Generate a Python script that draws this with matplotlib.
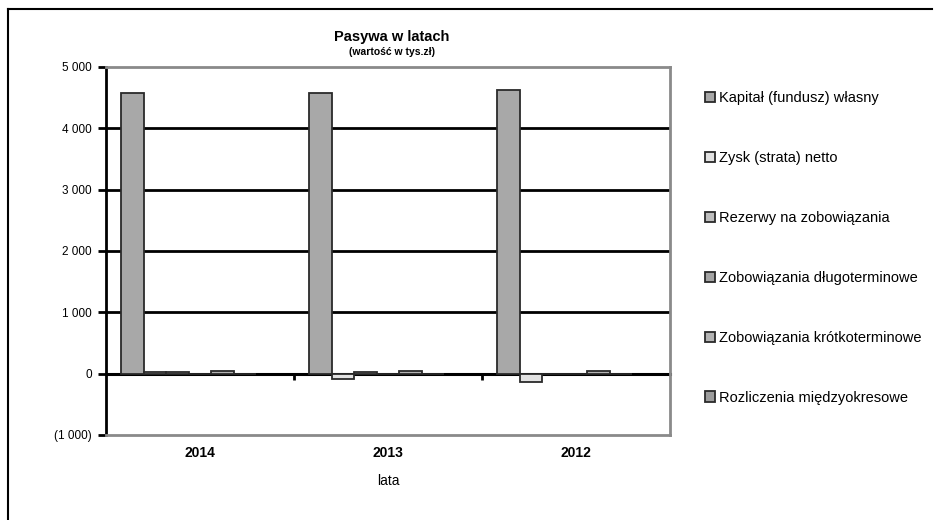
import numpy as np
import matplotlib
matplotlib.use("Agg")
import matplotlib.pyplot as plt
from matplotlib.lines import Line2D
from matplotlib.ticker import FuncFormatter

plt.rcParams["font.family"] = ["Liberation Sans", "DejaVu Sans"]

# data (tys. zł)
years = ["2014", "2013", "2012"]
series = [
    "Kapitał (fundusz) własny",
    "Zysk (strata) netto",
    "Rezerwy na zobowiązania",
    "Zobowiązania długoterminowe",
    "Zobowiązania krótkoterminowe",
    "Rozliczenia międzyokresowe",
]
kapital = [4580, 4570, 4620]
zysk = [20, -90, -140]
rezerwy = [20, 30, 0]
dlugoterm = [0, 0, 0]
krotkoterm = [40, 40, 40]
rozliczenia = [0, 0, 0]
values = [kapital, zysk, rezerwy, dlugoterm, krotkoterm, rozliczenia]
colors = ["#a8a8a8", "#e2e2e2", "#bdbdbd", "#a4a4a4", "#b4b4b4", "#9c9c9c"]

fig = plt.figure(figsize=(9.36, 5.2), dpi=100)
ax = fig.add_axes([0.1132, 0.1635, 0.6026, 0.7077])

x = np.arange(len(years))
w = 0.12
# group laid out on 7 slots (last slot empty, as in the original sheet)
for i, (name, vals) in enumerate(zip(series, values)):
    ax.bar(x + (i - 3) * w, vals, w, color=colors[i], edgecolor="#2a2a2a",
           linewidth=1.3, label=name, zorder=3)

ax.set_xlim(-0.5, 2.5)
ax.set_ylim(-1000, 5000)
ax.set_yticks(range(-1000, 5001, 1000))


def fmt(v, pos):
    s = f"{abs(int(v)):,}".replace(",", " ")
    return f"({s})" if v < 0 else s


ax.yaxis.set_major_formatter(FuncFormatter(fmt))
ax.tick_params(axis="y", direction="out", length=6, width=2, labelsize=8.5, pad=4)
for yv in range(1000, 5000, 1000):
    ax.axhline(yv, color="black", linewidth=2, zorder=1)

ax.set_xticks(x)
ax.set_xticklabels(years, fontsize=10, fontweight="bold")
ax.tick_params(axis="x", length=0, pad=8)
ax.set_xlabel("lata", fontsize=10, labelpad=10)

for side in ["top", "right", "bottom"]:
    ax.spines[side].set_color("#8a8a8a")
    ax.spines[side].set_linewidth(2)
ax.spines["left"].set_linewidth(2)

# horizontal axis crossing at zero, ticks between categories
zero_loc = (0 - ax.get_ylim()[0]) / (ax.get_ylim()[1] - ax.get_ylim()[0])
sec = ax.secondary_xaxis(zero_loc)
sec.set_xticks([0.5, 1.5])
sec.set_xticklabels([])
sec.tick_params(direction="out", length=4, width=2)
sec.spines["bottom"].set_linewidth(2.2)

fig.text(0.419, 0.929, "Pasywa w latach", ha="center", va="center",
         fontsize=10.5, fontweight="bold")
fig.text(0.419, 0.900, "(wartość w tys.zł)", ha="center", va="center",
         fontsize=7.5, fontweight="bold")

fig.legend(loc="upper left", bbox_to_anchor=(0.753, 0.825), frameon=False,
           fontsize=10.5, labelspacing=3.15, handlelength=0.7, handleheight=0.7,
           handletextpad=0.25, borderaxespad=0, borderpad=0)

# outer frame of the chart
fig.add_artist(Line2D([8 / 936, 932 / 936], [1 - 9 / 520, 1 - 9 / 520],
                      transform=fig.transFigure, color="black", linewidth=1.5))
fig.add_artist(Line2D([8 / 936, 8 / 936], [0, 1 - 9 / 520],
                      transform=fig.transFigure, color="black", linewidth=1.5))

fig.savefig("out.png", dpi=100)
